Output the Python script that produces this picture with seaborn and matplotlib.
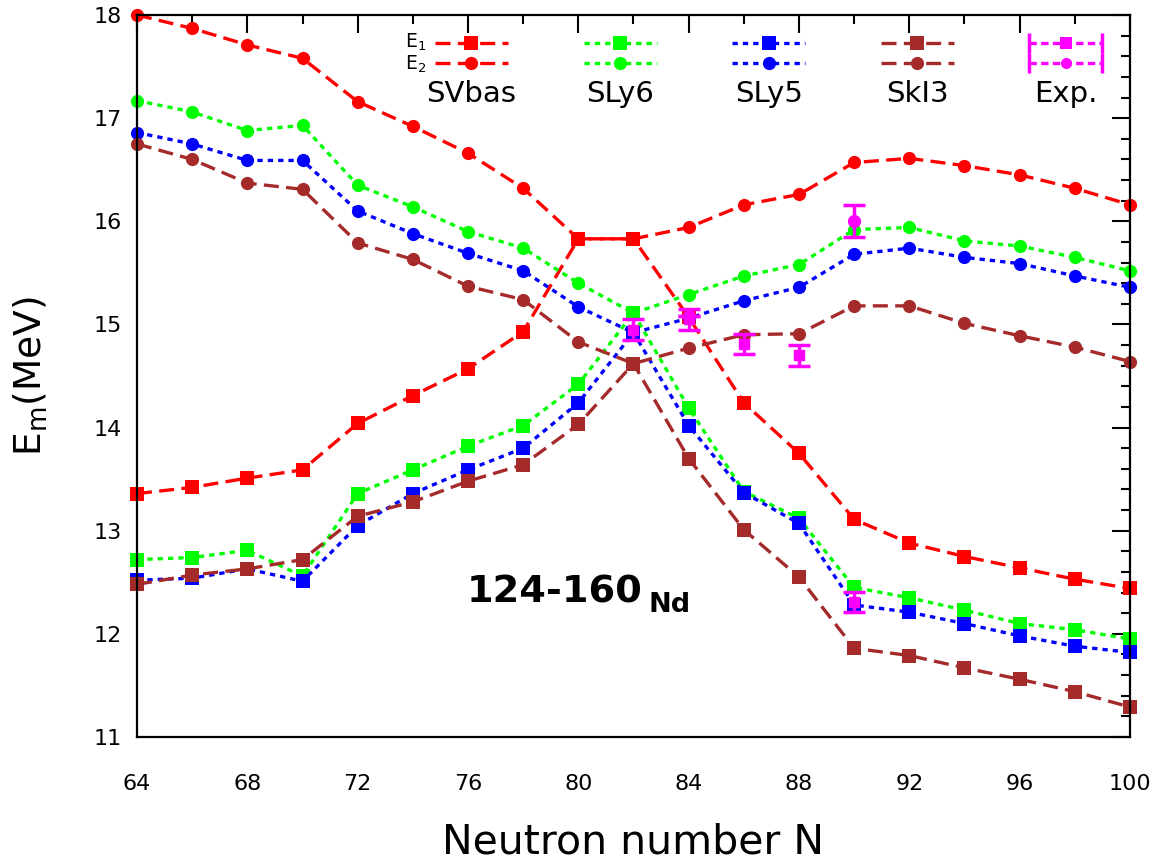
import matplotlib
matplotlib.use("Agg")
import matplotlib.pyplot as plt
import seaborn as sns
from matplotlib.lines import Line2D
from matplotlib.legend_handler import HandlerLine2D, HandlerTuple
from matplotlib.ticker import MultipleLocator

# ---------------- data ----------------
N = [64, 66, 68, 70, 72, 74, 76, 78, 80, 82, 84, 86, 88, 90, 92, 94, 96, 98, 100]

svbas_e1 = [13.36, 13.42, 13.51, 13.59, 14.04, 14.31, 14.57, 14.93, 15.83, 15.83,
            15.07, 14.24, 13.75, 13.11, 12.88, 12.75, 12.64, 12.53, 12.44]
svbas_e2 = [18.00, 17.87, 17.71, 17.58, 17.16, 16.92, 16.66, 16.32, 15.83, 15.83,
            15.94, 16.16, 16.26, 16.57, 16.61, 16.54, 16.45, 16.32, 16.16]
sly6_e1 = [12.72, 12.74, 12.81, 12.56, 13.36, 13.59, 13.82, 14.02, 14.42, 15.11,
           14.19, 13.38, 13.12, 12.45, 12.35, 12.23, 12.10, 12.04, 11.95]
sly6_e2 = [17.17, 17.06, 16.88, 16.93, 16.35, 16.14, 15.90, 15.74, 15.40, 15.11,
           15.29, 15.47, 15.58, 15.92, 15.94, 15.81, 15.76, 15.65, 15.52]
sly5_e1 = [12.52, 12.54, 12.63, 12.51, 13.05, 13.36, 13.59, 13.80, 14.24, 14.92,
           14.02, 13.37, 13.07, 12.28, 12.21, 12.10, 11.98, 11.88, 11.82]
sly5_e2 = [16.86, 16.75, 16.59, 16.59, 16.10, 15.88, 15.69, 15.52, 15.17, 14.92,
           15.06, 15.23, 15.36, 15.68, 15.74, 15.65, 15.59, 15.47, 15.36]
ski3_e1 = [12.48, 12.57, 12.63, 12.72, 13.14, 13.28, 13.48, 13.64, 14.03, 14.62,
           13.70, 13.01, 12.55, 11.86, 11.79, 11.67, 11.56, 11.44, 11.29]
ski3_e2 = [16.75, 16.60, 16.37, 16.31, 15.79, 15.63, 15.37, 15.24, 14.83, 14.62,
           14.77, 14.90, 14.91, 15.18, 15.18, 15.01, 14.89, 14.78, 14.64]

exp_e1_N = [82, 84, 86, 88, 90]
exp_e1 = [14.95, 15.05, 14.81, 14.70, 12.31]
exp_e1_err = [0.10, 0.10, 0.10, 0.10, 0.10]
exp_e2_N = [84, 90]
exp_e2 = [15.08, 16.00]
exp_e2_err = [0.0, 0.155]

model_names = ["SVbas", "SLy6", "SLy5", "SkI3"]
model_e1 = [svbas_e1, sly6_e1, sly5_e1, ski3_e1]
model_e2 = [svbas_e2, sly6_e2, sly5_e2, ski3_e2]
model_colors = ["#ff0000", "#00ff00", "#0000ff", "#a52a2a"]
long_dash = (0, (4.5, 2.2))
short_dash = (0, (1.6, 1.5))
model_styles = [long_dash, short_dash, short_dash, long_dash]
exp_color = "#ff00ff"

# ---------------- figure ----------------
sns.set_style("white")
plt.rcParams["font.family"] = ["DejaVu Sans"]
for k in ["text.color", "axes.labelcolor", "xtick.color", "ytick.color"]:
    plt.rcParams[k] = "black"
W, H = 1161, 865
fig = plt.figure(figsize=(W / 100, H / 100), dpi=100)
ax = fig.add_axes([137 / W, 1 - 737 / H, (1130 - 137) / W, (737 - 15) / H])

LW = 2.4
MS = 9.5
for col, ls, e1, e2 in zip(model_colors, model_styles, model_e1, model_e2):
    sns.lineplot(x=N, y=e1, ax=ax, color=col, linestyle=ls, linewidth=LW,
                 marker="s", markersize=MS, markeredgewidth=0,
                 markeredgecolor=col, sort=False, errorbar=None, clip_on=False)
    sns.lineplot(x=N, y=e2, ax=ax, color=col, linestyle=ls, linewidth=LW,
                 marker="o", markersize=MS, markeredgewidth=0,
                 markeredgecolor=col, sort=False, errorbar=None, clip_on=False)

ax.errorbar(exp_e1_N, exp_e1, yerr=exp_e1_err, fmt="s", color=exp_color,
            markersize=7.5, elinewidth=2.5, capsize=8, capthick=2.5, zorder=5)
ax.errorbar(exp_e2_N, exp_e2, yerr=exp_e2_err, fmt="o", color=exp_color,
            markersize=8.5, elinewidth=2.5, capsize=8, capthick=2.5, zorder=5)

ax.set_xlim(64, 100)
ax.set_ylim(11, 18)
ax.xaxis.set_major_locator(MultipleLocator(4))
ax.xaxis.set_minor_locator(MultipleLocator(2))
ax.yaxis.set_major_locator(MultipleLocator(1))
ax.yaxis.set_minor_locator(MultipleLocator(0.2))
ax.tick_params(which="both", direction="in", top=True, right=True,
               width=1.5, color="black", labelsize=16)
ax.tick_params(axis="x", which="both", pad=27)
ax.tick_params(axis="y", which="both", pad=11)
ax.tick_params(which="major", length=13)
ax.tick_params(which="minor", length=6.5)
for s in ax.spines.values():
    s.set_linewidth(1.6)
    s.set_color("black")

ax.set_xlabel("Neutron number N", fontsize=29.5, labelpad=20)
ax.set_ylabel(r"E$_\mathrm{m}$(MeV)", fontsize=27, labelpad=31)

ax.text(75.96, 12.30, "124-160", fontsize=27.5, fontweight="bold",
        va="baseline", ha="left")
ax.text(82.53, 12.21, "Nd", fontsize=19.5, fontweight="bold",
        va="baseline", ha="left")

# ---------------- legend ----------------
handles = []
for col, ls in zip(model_colors, model_styles):
    handles.append(Line2D([], [], color=col, linestyle=ls, linewidth=LW,
                          marker="s", markersize=MS, markeredgewidth=0))
    handles.append(Line2D([], [], color=col, linestyle=ls, linewidth=LW,
                          marker="o", markersize=MS, markeredgewidth=0))
exp_dash = (0, (2.2, 1.3))
hmap = {}
for mk in ["s", "o"]:
    ln = Line2D([], [], color=exp_color, linestyle=exp_dash, linewidth=LW,
                marker=mk, markersize=8, markeredgewidth=0)
    caps = Line2D([], [], color=exp_color, linestyle="none", marker="|",
                  markersize=15, markeredgewidth=2.5)
    hmap[caps] = HandlerLine2D(numpoints=2, marker_pad=0)
    handles.append((ln, caps))

LFS = 10
leg = ax.legend(handles=handles, labels=[""] * len(handles), ncol=5,
                loc="upper left", bbox_to_anchor=(435 / W, 1 - 37 / H),
                bbox_transform=fig.transFigure, frameon=False, fontsize=LFS,
                borderpad=0, borderaxespad=0, handletextpad=0,
                handlelength=5.25, columnspacing=5.45, labelspacing=0.45,
                handler_map={**hmap, tuple: HandlerTuple(ndivide=1)})

fig.canvas.draw()
r = fig.canvas.get_renderer()
inv = fig.transFigure.inverted()
hs = leg.legend_handles
bb0 = hs[0].get_window_extent(r)
bb1 = hs[1].get_window_extent(r)
y_row1 = (bb0.y0 + bb0.y1) / 2
y_row2 = (bb1.y0 + bb1.y1) / 2
x_left = bb0.x0
fx, fy1 = inv.transform((x_left - 2, y_row1 + 1))
_, fy2 = inv.transform((x_left - 2, y_row2 - 1))
fig.text(fx, fy1, r"E$_1$", fontsize=13.5, ha="right", va="center")
fig.text(fx, fy2, r"E$_2$", fontsize=13.5, ha="right", va="center")

all_names = model_names + ["Exp."]
for i, name in enumerate(all_names):
    bb = hs[2 * i].get_window_extent(r)
    cx = (bb.x0 + bb.x1) / 2
    px, py = inv.transform((cx, y_row2 - 31))
    fig.text(px, py, name, fontsize=21, ha="center", va="center")

fig.savefig("out.png", dpi=100)
